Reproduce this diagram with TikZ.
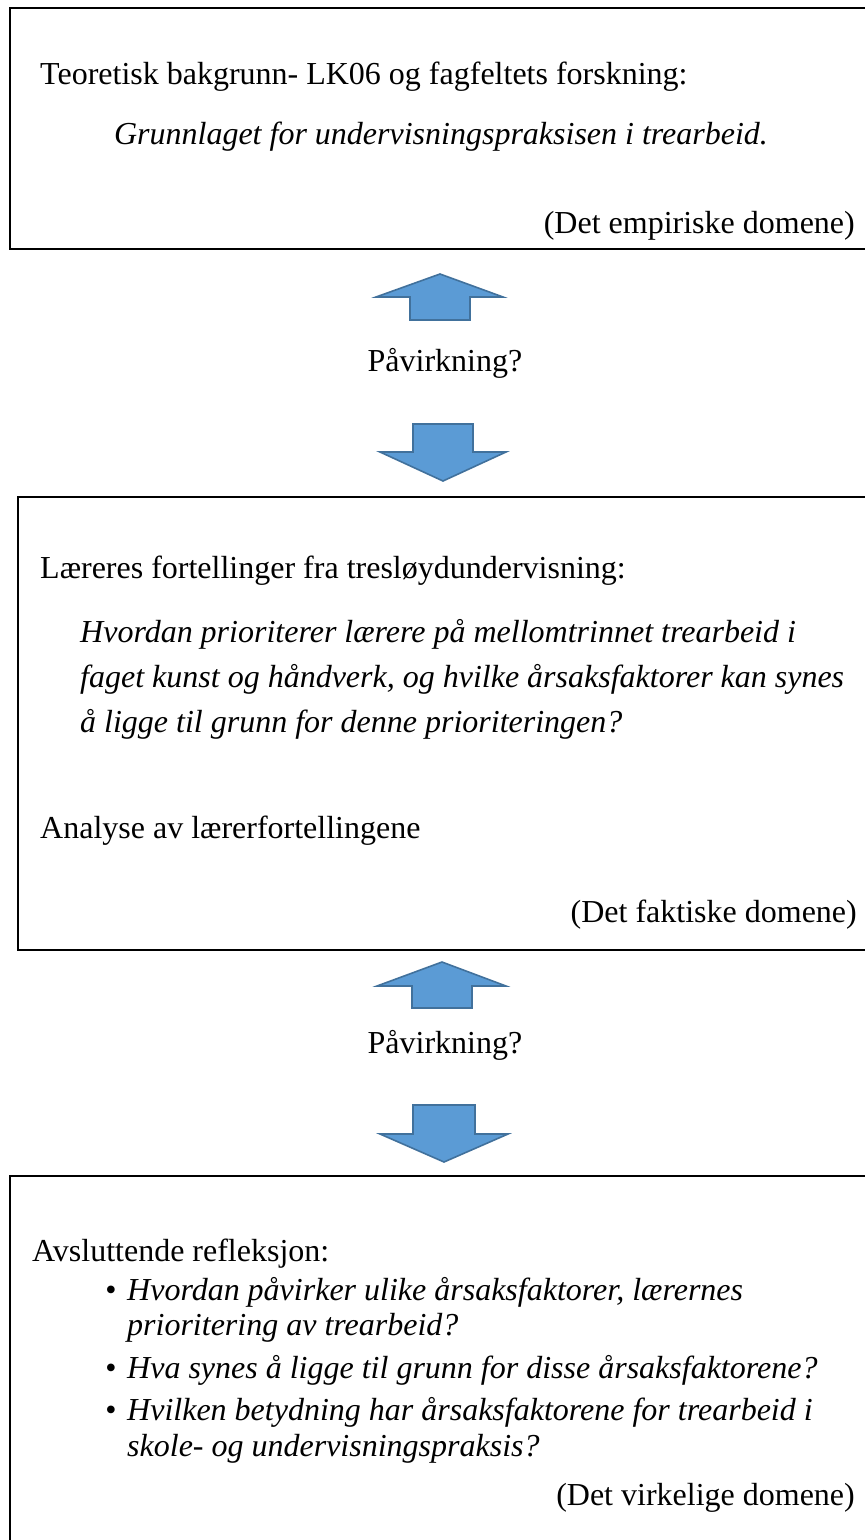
\documentclass[tikz,border=0pt]{standalone}
\usepackage{fontspec}
\setmainfont{Liberation Serif}
\begin{document}
\begin{tikzpicture}[x=1pt,y=-1pt,
  box/.style={draw=black,line width=2.6pt},
  blk/.style={inner sep=0pt,font=\fontsize{32}{38}\selectfont},
  ital/.style={inner sep=0pt,font=\fontsize{32}{38}\selectfont\itshape},
  bigarrow/.style={fill=arrowfill,draw=arrowline,line width=1.6pt,line join=miter}]
\definecolor{arrowfill}{HTML}{5B9BD5}
\definecolor{arrowline}{HTML}{41719C}
\useasboundingbox (0,0) rectangle (865,1540);
\clip (0,0) rectangle (865,1540);
\fill[white] (0,0) rectangle (865,1540);
% boxes
\draw[box] (10,8) rectangle (900,249);
\draw[box] (18,497) rectangle (900,950);
\draw[box] (10,1176) rectangle (900,1600);
% box 1 texts
\node[blk,anchor=base west] (t1) at (40,84) {Teoretisk bakgrunn- LK06 og fagfeltets forskning:};
\node[ital,anchor=base] (t2) at (441,144) {Grunnlaget for undervisningspraksisen i trearbeid.};
\node[blk,anchor=base east] (t3) at (855,233) {(Det empiriske domene)};
% arrows 1
\draw[bigarrow] (440,274) -- (503,297) -- (470,297) -- (470,320) -- (410,320) -- (410,297) -- (376,297) -- cycle;
\node[blk,anchor=base] (p1) at (445,371) {Påvirkning?};
\draw[bigarrow] (413,424) -- (473,424) -- (473,452) -- (506,452) -- (443,481) -- (380,452) -- (413,452) -- cycle;
% box 2 texts
\node[blk,anchor=base west] (u1) at (40,578) {Læreres fortellinger fra tresløydundervisning:};
\node[ital,anchor=base west] (u2) at (80,642) {Hvordan prioriterer lærere på mellomtrinnet trearbeid i};
\node[ital,anchor=base west] (u3) at (80,687) {faget kunst og håndverk, og hvilke årsaksfaktorer kan synes};
\node[ital,anchor=base west] (u4) at (80,732) {å ligge til grunn for denne prioriteringen?};
\node[blk,anchor=base west] (u5) at (40,838) {Analyse av lærerfortellingene};
\node[blk,anchor=base east] (u6) at (857,922) {(Det faktiske domene)};
% arrows 2
\draw[bigarrow] (442,962) -- (506,986) -- (472,986) -- (472,1008) -- (412,1008) -- (412,986) -- (377,986) -- cycle;
\node[blk,anchor=base] (p2) at (445,1053) {Påvirkning?};
\draw[bigarrow] (413,1105) -- (475,1105) -- (475,1134) -- (508,1134) -- (444,1162) -- (380,1134) -- (413,1134) -- cycle;
% box 3 texts
\node[blk,anchor=base west] (v1) at (32,1261) {Avsluttende refleksjon:};
\node[blk,anchor=base] (b1) at (111,1300) {•};
\node[ital,anchor=base west] (v2) at (127,1300) {Hvordan påvirker ulike årsaksfaktorer, lærernes};
\node[ital,anchor=base west] (v3) at (127,1335) {prioritering av trearbeid?};
\node[blk,anchor=base] (b2) at (111,1378) {•};
\node[ital,anchor=base west] (v4) at (127,1378) {Hva synes å ligge til grunn for disse årsaksfaktorene?};
\node[blk,anchor=base] (b3) at (111,1420) {•};
\node[ital,anchor=base west] (v5) at (127,1420) {Hvilken betydning har årsaksfaktorene for trearbeid i};
\node[ital,anchor=base west] (v6) at (127,1456) {skole- og undervisningspraksis?};
\node[blk,anchor=base east] (v7) at (855,1505) {(Det virkelige domene)};
\end{tikzpicture}
\end{document}
